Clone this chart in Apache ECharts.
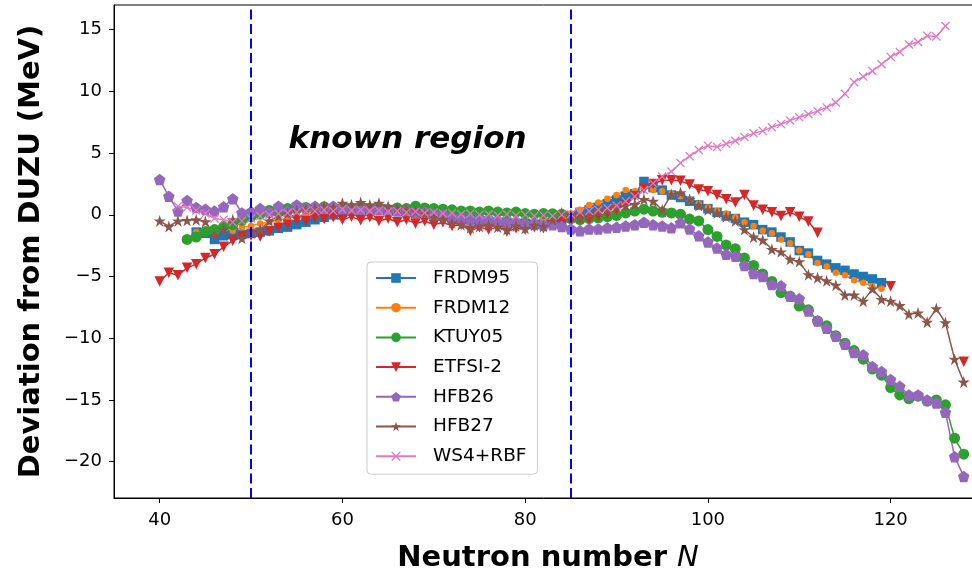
<!DOCTYPE html>
<html><head><meta charset="utf-8">
<script src="https://cdn.jsdelivr.net/npm/echarts@6/dist/echarts.min.js"></script>
<style>html,body{margin:0;padding:0;background:#fff}#c{width:972px;height:575px}</style>
</head><body><div id="c"></div>
<script>
// Neutron numbers N = 40 ... 128
const neutronN = [40,41,42,43,44,45,46,47,48,49,
  50,51,52,53,54,55,56,57,58,59,
  60,61,62,63,64,65,66,67,68,69,
  70,71,72,73,74,75,76,77,78,79,
  80,81,82,83,84,85,86,87,88,89,
  90,91,92,93,94,95,96,97,98,99,
  100,101,102,103,104,105,106,107,108,109,
  110,111,112,113,114,115,116,117,118,119,
  120,121,122,123,124,125,126,127,128];

const xTicks = [40,60,80,100,120];
const yTicks = [-20,-15,-10,-5,0,5,10,15];
const knownRegion = [50,85];

const FRDM95 = [null,null,null,null,-1.4,-1.5,-2.0,-1.7,-1.6,-1.6,
  -1.5,-1.4,-1.3,-1.1,-1.0,-0.8,-0.6,-0.4,-0.2,0.0,
  0.2,0.3,0.4,0.3,0.4,0.3,0.3,0.2,0.1,0.1,
  0.0,-0.1,-0.2,-0.3,-0.4,-0.5,-0.5,-0.6,-0.6,-0.7,
  -0.7,-0.8,-0.7,-0.6,-0.4,-0.1,0.2,0.4,0.6,0.9,
  1.2,1.5,1.7,2.7,2.2,2.0,1.6,1.4,1.1,0.8,
  0.5,0.2,-0.1,-0.3,-0.6,-0.8,-1.2,-1.4,-1.8,-2.2,
  -2.9,-3.1,-3.7,-4.0,-4.3,-4.5,-4.8,-5.0,-5.2,-5.5,
  null,null,null,null,null,null,null,null,null];

const FRDM12 = [null,null,null,null,-1.4,-1.3,-1.3,-1.2,-1.3,-1.0,
  -0.9,-0.7,-0.6,-0.4,-0.3,-0.1,0.0,0.1,0.2,0.3,
  0.3,0.4,0.4,0.4,0.3,0.3,0.2,0.2,0.1,0.0,
  0.0,-0.1,-0.2,-0.2,-0.3,-0.4,-0.4,-0.5,-0.5,-0.6,
  -0.6,-0.6,-0.5,-0.3,-0.1,0.1,0.4,0.8,1.0,1.3,
  1.6,2.0,1.9,2.2,2.0,1.9,1.7,1.5,1.2,0.9,
  0.6,0.3,0.1,-0.2,-0.6,-0.9,-1.3,-1.5,-2.0,-2.3,
  -2.9,-3.2,-3.9,-4.2,-4.7,-4.9,-5.3,-5.5,-5.8,-6.0,
  null,null,null,null,null,null,null,null,null];

const KTUY05 = [null,null,null,-2.0,-1.8,-1.35,-1.2,-0.95,-0.8,-0.45,
  -0.15,0.05,0.35,0.3,0.5,0.45,0.6,0.5,0.65,0.5,
  0.6,0.45,0.6,0.45,0.55,0.4,0.55,0.5,0.7,0.55,
  0.5,0.45,0.4,0.3,0.3,0.22,0.3,0.22,0.15,0.22,
  0.1,0.05,0.1,0.08,0.05,-0.3,-0.4,-0.3,-0.25,-0.15,
  -0.05,0.15,0.3,0.45,0.3,0.2,0.15,0.05,-0.35,-0.5,
  -1.2,-1.75,-2.45,-2.75,-3.5,-4.1,-4.8,-5.4,-6.3,-6.6,
  -7.4,-7.7,-8.6,-9.0,-9.8,-10.4,-11.0,-11.7,-12.5,-13.0,
  -14.0,-14.6,-14.9,-14.7,-15.1,-15.0,-15.4,-18.1,-19.4];

const ETFSI2 = [-5.4,-4.7,-4.9,-4.3,-4.0,-3.5,-3.2,-2.6,-2.1,-1.8,
  -1.7,-1.75,-1.35,-1.05,-0.8,-0.45,-0.5,-0.25,-0.35,-0.2,
  -0.4,-0.15,-0.45,-0.2,-0.5,-0.3,-0.6,-0.4,-0.7,-0.5,
  -0.8,-0.6,-0.9,-0.8,-1.3,-1.0,-1.2,-1.0,-1.35,-1.1,
  -1.2,-1.0,-1.1,-0.8,-0.6,-0.5,-0.3,-0.4,-0.1,0.1,
  0.4,0.8,1.5,2.1,2.5,2.8,2.8,2.75,2.45,2.05,
  1.9,1.6,1.25,1.0,1.6,0.75,0.4,0.2,-0.1,0.2,
  -0.15,-0.55,-1.45,null,null,null,null,null,null,null,
  -5.8,null,null,null,null,null,null,null,-11.9];

const HFB26 = [2.85,1.5,0.3,1.15,0.6,0.45,0.3,0.65,1.3,0.15,
  0.25,0.5,0.2,0.7,0.3,0.8,0.55,0.7,0.6,0.7,
  0.5,0.6,0.45,0.55,0.4,0.45,0.3,0.35,0.2,0.2,
  0.05,0.0,-0.2,-0.25,-0.4,-0.35,-0.55,-0.5,-0.65,-0.6,
  -0.75,-0.7,-0.85,-0.8,-0.95,-1.15,-1.3,-1.15,-1.15,-1.05,
  -1.0,-0.9,-0.8,-0.6,-0.8,-0.9,-1.05,-0.65,-1.15,-1.7,
  -2.2,-2.7,-3.2,-3.35,-4.1,-4.75,-5.0,-5.65,-5.75,-6.6,
  -6.8,-7.8,-8.6,-9.2,-9.85,-10.5,-11.15,-11.35,-12.3,-12.7,
  -13.35,-13.9,-14.6,-14.6,-15.0,-15.25,-16.0,-19.6,-21.2];

const HFB27 = [-0.5,-0.95,-0.5,-0.45,-0.4,-0.55,-1.65,-1.2,-0.4,-1.9,
  -1.5,-1.2,-0.5,-0.1,0.1,0.3,0.45,0.5,0.7,0.6,
  0.95,0.8,1.0,0.8,0.95,0.7,0.55,0.45,0.3,0.1,
  -0.2,-0.35,-0.65,-0.8,-1.05,-0.95,-0.85,-1.0,-1.2,-0.9,
  -1.1,-0.85,-0.95,-0.4,0.15,0.0,-0.25,0.05,0.3,0.45,
  0.7,0.75,0.85,1.25,1.1,0.4,1.65,1.8,1.25,0.75,
  0.4,0.15,-0.15,-0.5,-1.2,-1.8,-2.05,-2.8,-3.0,-3.6,
  -3.8,-4.85,-5.1,-5.35,-5.7,-6.5,-6.5,-7.0,-6.0,-6.85,
  -7.0,-7.35,-8.05,-7.95,-8.7,-7.6,-8.75,-11.7,-13.55];

const WS4RBF = [null,null,0.7,0.6,0.35,0.1,-0.3,-0.4,-0.6,-0.5,
  -0.3,-0.1,0.0,0.1,0.15,0.2,0.3,0.3,0.4,0.3,
  0.45,0.35,0.4,0.3,0.35,0.25,0.3,0.2,0.25,0.15,
  0.2,0.1,0.15,0.05,0.1,0.0,0.05,-0.05,0.05,-0.05,
  0.0,-0.1,-0.05,-0.1,0.0,0.05,0.2,0.3,0.4,0.55,
  0.75,1.1,1.5,2.0,2.55,3.1,3.5,4.2,4.75,5.25,
  5.6,5.5,5.75,6.0,6.3,6.6,6.8,7.1,7.35,7.65,
  7.9,8.15,8.4,8.7,9.1,9.8,10.75,11.2,11.65,12.2,
  12.8,13.2,13.8,14.0,14.5,14.45,15.3,null,null];

const SYM_TRI = 'path://M-1,-1 L1,-1 L0,1 Z';
const SYM_PENT = 'path://M0,-1 L0.951,-0.309 L0.5878,0.809 L-0.5878,0.809 L-0.951,-0.309 Z';
const SYM_STAR = 'path://M0,-1 L0.2245,-0.309 L0.951,-0.309 L0.3633,0.118 L0.5878,0.809 L0,0.382 L-0.5878,0.809 L-0.3633,0.118 L-0.951,-0.309 L-0.2245,-0.309 Z';
const SYM_X = 'path://M-1,-0.8 L-0.8,-1 L0,-0.2 L0.8,-1 L1,-0.8 L0.2,0 L1,0.8 L0.8,1 L0,0.2 L-0.8,1 L-1,0.8 L-0.2,0 Z';

const defs = [
  {name:'FRDM95', values:FRDM95, color:'#1f77b4', symbol:'rect', size:9.5},
  {name:'FRDM12', values:FRDM12, color:'#ff7f0e', symbol:'circle', size:6.5},
  {name:'KTUY05', values:KTUY05, color:'#2ca02c', symbol:'circle', size:11},
  {name:'ETFSI-2', values:ETFSI2, color:'#d62728', symbol:SYM_TRI, size:10.5},
  {name:'HFB26', values:HFB26, color:'#9467bd', symbol:SYM_PENT, size:11.5},
  {name:'HFB27', values:HFB27, color:'#8c564b', symbol:SYM_STAR, size:12},
  {name:'WS4+RBF', values:WS4RBF, color:'#e377c2', symbol:SYM_X, size:9}
];

const FONT = 'DejaVu Sans';
const series = defs.map(d => ({
  name: d.name, type: 'line',
  data: neutronN.map((n, i) => [n, d.values[i] === null ? '-' : d.values[i]]),
  symbol: d.symbol, symbolSize: d.size, showSymbol: true, connectNulls: false,
  lineStyle: {color: d.color, width: 1.5},
  itemStyle: {color: d.color},
  emphasis: {disabled: true},
  animation: false
}));
series.push({
  type: 'line', name: 'region', data: [], silent: true, z: 10,
  markLine: {
    symbol: 'none', silent: true, animation: false,
    label: {show: false},
    lineStyle: {color: '#0000ff', type: [10, 4.5], width: 2},
    data: knownRegion.map(v => ({xAxis: v}))
  }
});

const minus = v => v < 0 ? '\u2212' + Math.abs(v) : String(v);

const chart = echarts.init(document.getElementById('c'));
chart.setOption({
  animation: false,
  backgroundColor: '#fff',
  grid: {left: 114, top: 5, width: 868, height: 493, outerBoundsMode: 'none', containLabel: false,
         show: true, borderColor: '#000', borderWidth: 1, backgroundColor: 'transparent'},
  xAxis: {
    type: 'value', min: 35, max: 130,
    axisLine: {show: true, onZero: false, lineStyle: {color: '#000', width: 1}},
    axisTick: {show: true, length: 5, lineStyle: {color: '#000', width: 1}, customValues: xTicks},
    axisLabel: {customValues: xTicks, fontFamily: FONT, fontSize: 18, color: '#000', margin: 13, formatter: minus},
    splitLine: {show: false},
    name: '{a|Neutron number }{b|N}', nameLocation: 'middle', nameGap: 46,
    nameTextStyle: {rich: {
      a: {fontFamily: FONT, fontWeight: 'bold', fontSize: 29, color: '#000'},
      b: {fontFamily: FONT, fontStyle: 'italic', fontSize: 29, color: '#000'}
    }}
  },
  yAxis: {
    type: 'value', min: -22.95, max: 17.0,
    axisLine: {show: true, onZero: false, lineStyle: {color: '#000', width: 1}},
    axisTick: {show: true, length: 5, lineStyle: {color: '#000', width: 1}, customValues: yTicks},
    axisLabel: {customValues: yTicks, fontFamily: FONT, fontSize: 18, color: '#000', margin: 12, formatter: minus},
    splitLine: {show: false},
    name: 'Deviation from DUZU (MeV)', nameLocation: 'middle', nameGap: 68,
    nameTextStyle: {fontFamily: FONT, fontWeight: 'bold', fontSize: 29, color: '#000'}
  },
  legend: {
    data: defs.map(d => d.name), orient: 'vertical', left: 367, top: 262,
    itemWidth: 40, itemHeight: 12, itemGap: 9.7,
    padding: [6, 11, 8, 8],
    backgroundColor: 'rgba(255,255,255,0.8)', borderColor: '#cccccc', borderWidth: 1, borderRadius: 4,
    selectedMode: false,
    textStyle: {fontFamily: FONT, fontSize: 18.5, color: '#000', lineHeight: 20, padding: [0, 0, 0, 12]}
  },
  series: series
});

const pos = chart.convertToPixel({gridIndex: 0}, [67.13, 6.03]);
chart.setOption({graphic: [{
  type: 'text', x: pos[0], y: pos[1], z: 20,
  style: {text: 'known region', font: 'italic bold 31px "DejaVu Sans"', fill: '#000', align: 'center', verticalAlign: 'middle'}
}]});
</script>
</body></html>
